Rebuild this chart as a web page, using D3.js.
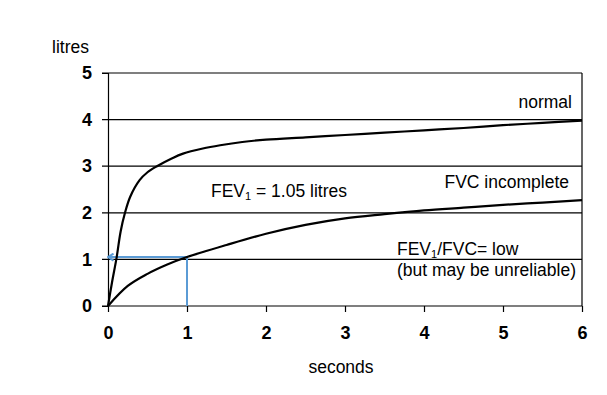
<!DOCTYPE html>
<html>
<head>
<meta charset="utf-8">
<script src="https://cdn.jsdelivr.net/npm/d3@7"></script>
<style>
  body { margin: 0; background: #fff; }
  text { font-family: "Liberation Sans", Arial, sans-serif; fill: #000; }
  .tick text { font-weight: bold; font-size: 18px; font-family: "Liberation Sans", Arial, sans-serif; }
</style>
</head>
<body>
<script>
// datos
var xTicks = [0, 1, 2, 3, 4, 5, 6];
var yTicks = [0, 1, 2, 3, 4, 5];

var normalT = [0, 0.05, 0.11, 0.16, 0.215, 0.28, 0.4, 0.5, 0.62, 0.8, 0.95, 1.2, 1.42, 1.7, 2, 2.5, 3, 3.5, 4, 4.5, 5, 5.5, 6];
var normalV = [0, 0.5, 1.05, 1.6, 2.0, 2.34, 2.7, 2.87, 3.0, 3.16, 3.27, 3.38, 3.45, 3.52, 3.57, 3.62, 3.67, 3.72, 3.77, 3.82, 3.88, 3.93, 3.98];

var incompT = [0, 0.25, 0.5, 0.75, 1, 1.5, 2, 2.5, 3, 3.5, 4, 4.5, 5, 5.5, 6];
var incompV = [0, 0.43, 0.69, 0.89, 1.05, 1.31, 1.55, 1.74, 1.88, 1.97, 2.05, 2.11, 2.17, 2.22, 2.27];

var fev1 = { t: 1, v: 1.05 };

var vis = {
    width: 607,
    height: 395,
    left: 108,
    right: 582,
    top: 73,
    bottom: 306,
    blue: "#5b9bd5"
};

var svg = d3.select("body").append("svg")
    .attr("width", vis.width)
    .attr("height", vis.height);

var x = d3.scaleLinear().domain([0, 6]).range([vis.left, vis.right]);
var y = d3.scaleLinear().domain([0, 5]).range([vis.bottom, vis.top]);

// lineas horizontales (con la marca a la izquierda)
svg.append("g").selectAll("line")
    .data(yTicks)
    .enter().append("line")
    .attr("x1", x(0) - 6)
    .attr("x2", x(6))
    .attr("y1", function(d) { return y(d); })
    .attr("y2", function(d) { return y(d); })
    .attr("stroke", "#000")
    .attr("stroke-width", 1.2);

// eje y
var yAxis = svg.append("g")
    .attr("transform", "translate(" + x(0) + ",0)")
    .call(d3.axisLeft(y).tickValues(yTicks).tickSize(6).tickPadding(10).tickFormat(d3.format("d")));
yAxis.select(".domain").attr("stroke", "#000").attr("stroke-width", 1.2);
yAxis.selectAll(".tick line").remove();

// eje x
var xAxis = svg.append("g")
    .attr("transform", "translate(0," + y(0) + ")")
    .call(d3.axisBottom(x).tickValues(xTicks).tickSize(6).tickPadding(14).tickSizeOuter(0).tickFormat(d3.format("d")));
xAxis.select(".domain").remove();
xAxis.selectAll(".tick line").attr("stroke", "#000").attr("stroke-width", 1.2);

// borde derecho
svg.append("line")
    .attr("x1", x(6)).attr("x2", x(6))
    .attr("y1", y(5)).attr("y2", y(0))
    .attr("stroke", "#000").attr("stroke-width", 1.2);

// lineas azules del FEV1
svg.append("defs").append("marker")
    .attr("id", "flecha")
    .attr("markerUnits", "userSpaceOnUse")
    .attr("viewBox", "0 0 8 9")
    .attr("refX", 7).attr("refY", 4.5)
    .attr("markerWidth", 8).attr("markerHeight", 9)
    .attr("orient", "auto")
    .append("path")
    .attr("d", "M1.5,1 L7,4.5 L1.5,8")
    .attr("fill", "none")
    .attr("stroke", vis.blue)
    .attr("stroke-width", 2);

svg.append("line")
    .attr("x1", x(fev1.t)).attr("x2", x(fev1.t))
    .attr("y1", y(0)).attr("y2", y(fev1.v))
    .attr("stroke", vis.blue).attr("stroke-width", 2);
svg.append("line")
    .attr("x1", x(fev1.t)).attr("x2", x(0))
    .attr("y1", y(fev1.v)).attr("y2", y(fev1.v))
    .attr("stroke", vis.blue).attr("stroke-width", 2)
    .attr("marker-end", "url(#flecha)");

// curvas
var linea = d3.line()
    .x(function(d) { return x(d[0]); })
    .y(function(d) { return y(d[1]); })
    .curve(d3.curveCatmullRom.alpha(0.5));

svg.append("path")
    .datum(d3.zip(normalT, normalV))
    .attr("d", linea)
    .attr("fill", "none").attr("stroke", "#000").attr("stroke-width", 2.2);

svg.append("path")
    .datum(d3.zip(incompT, incompV))
    .attr("d", linea)
    .attr("fill", "none").attr("stroke", "#000").attr("stroke-width", 2.2);

// textos
svg.append("text").attr("x", 52).attr("y", 53).style("font-size", "17.5px").text("litres");
svg.append("text").attr("x", 341).attr("y", 373).attr("text-anchor", "middle").style("font-size", "17.5px").text("seconds");

svg.append("text").attr("x", 572).attr("y", 108).attr("text-anchor", "end").style("font-size", "17.5px").text("normal");
svg.append("text").attr("x", 569).attr("y", 188).attr("text-anchor", "end").style("font-size", "17.5px").text("FVC incomplete");

var t1 = svg.append("text").attr("x", 211).attr("y", 197).style("font-size", "17.5px");
t1.append("tspan").text("FEV");
t1.append("tspan").attr("dy", 3).style("font-size", "11px").text("1");
t1.append("tspan").attr("dy", -3).text(" = 1.05 litres");

var t2 = svg.append("text").attr("x", 397).attr("y", 255).style("font-size", "17.5px");
t2.append("tspan").text("FEV");
t2.append("tspan").attr("dy", 3).style("font-size", "11px").text("1");
t2.append("tspan").attr("dy", -3).text("/FVC= low");

svg.append("text").attr("x", 397).attr("y", 276).style("font-size", "17.5px").text("(but may be unreliable)");
</script>
</body>
</html>
